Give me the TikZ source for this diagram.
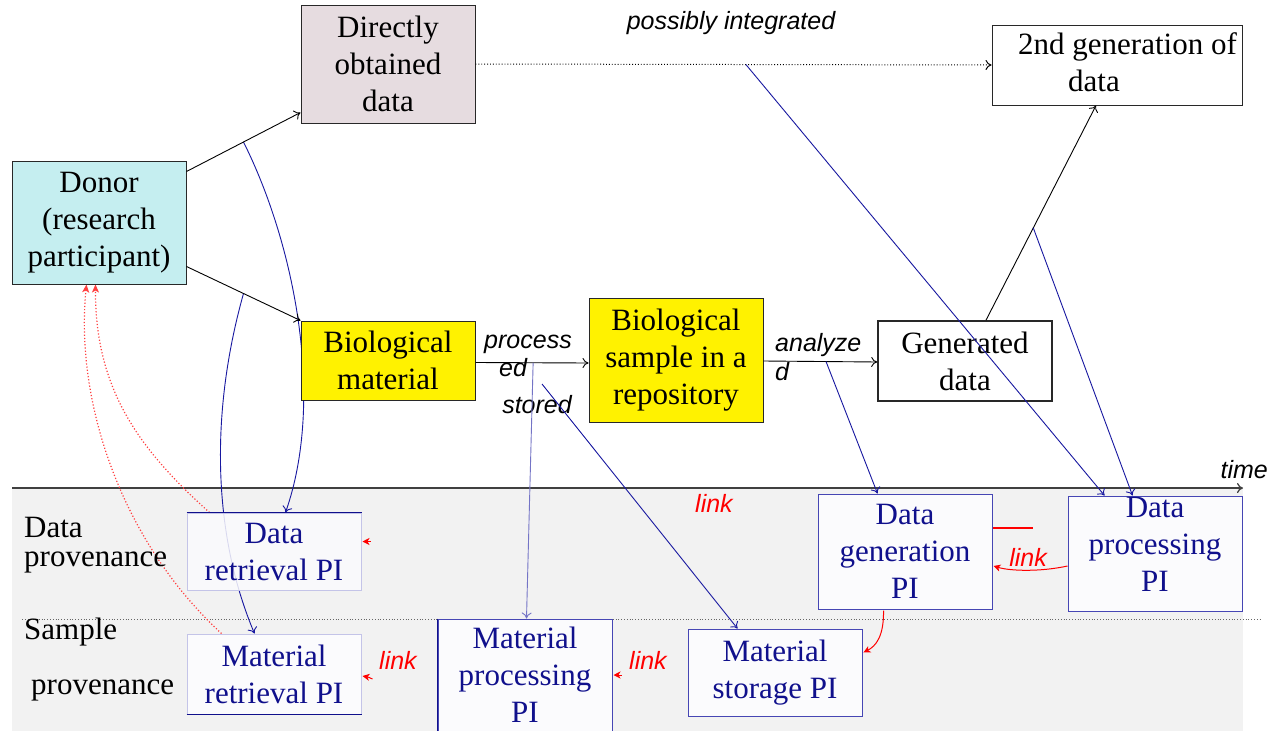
\documentclass[tikz,border=0pt]{standalone}
\usepackage{fontspec}
\setmainfont{Liberation Serif}
\setsansfont{Liberation Sans}
\usetikzlibrary{arrows.meta,calc}
\pgfdeclarelayer{back}
\pgfsetlayers{back,main}

\definecolor{donorfill}{RGB}{197,238,240}
\definecolor{directfill}{RGB}{230,220,224}
\definecolor{bandgray}{RGB}{242,242,242}
\definecolor{navy}{RGB}{24,24,160}
\definecolor{pitext}{RGB}{16,16,140}
\definecolor{piborder}{RGB}{70,70,180}
\definecolor{pilight}{RGB}{196,196,232}
\definecolor{pifill}{RGB}{251,251,253}
\definecolor{boxedge}{RGB}{40,40,40}
\definecolor{linkred}{RGB}{255,0,0}

\tikzset{
  mainbox/.style={draw=boxedge, line width=1pt, rectangle, inner sep=0pt,
    align=center, font=\fontsize{31}{37}\selectfont},
  pibox/.style={draw=piborder, line width=1pt, fill=pifill, rectangle,
    inner sep=0pt, align=center, text=pitext, font=\fontsize{31}{37}\selectfont},
  pitxt/.style={inner sep=0pt, align=center, text=pitext, font=\fontsize{31}{37}\selectfont},
  plain/.style={inner sep=0pt, align=left, font=\fontsize{31}{37}\selectfont},
  lbl/.style={inner sep=0pt, font=\sffamily\itshape\fontsize{25}{30}\selectfont},
  linklbl/.style={lbl, text=linkred},
  flow/.style={draw=black, line width=0.9pt, -{Computer Modern Rightarrow[length=6pt,width=10pt]}},
  bluearrow/.style={draw=navy, line width=0.9pt, -{Computer Modern Rightarrow[length=6pt,width=10pt]}},
  redarrow/.style={draw=linkred, line width=1pt, -{Stealth[length=7pt,width=7pt,inset=2pt]}},
  reddots/.style={draw=linkred!75, dotted, line width=1.2pt, -{Stealth[length=8pt,width=7pt,inset=2pt]}},
}

\begin{document}
\begin{tikzpicture}[x=1pt,y=-1pt]
\clip (0,0) rectangle (1270,731);

% ---- main flow boxes ----
\node[mainbox, fill=donorfill, minimum width=174, minimum height=123] (donor) at (99,222.5)
  {Donor\\(research\\participant)};
\node[mainbox, fill=directfill, minimum width=174, minimum height=118] (direct) at (388,64)
  {Directly\\obtained\\data};
\node[mainbox, fill=yellow, minimum width=174, minimum height=79] (biomat) at (388,360.5)
  {Biological\\material};
\node[mainbox, fill=yellow, minimum width=174, minimum height=124] (biosamp) at (676,360)
  {Biological\\sample in a\\repository};
\node[mainbox, fill=white, line width=1.6pt, minimum width=174, minimum height=80] (gendata) at (965,361)
  {Generated\\data};
\node[mainbox, fill=white, minimum width=250, minimum height=80] (gen2) at (1117,65) {};
\node[plain, anchor=west] (gen2txt) at (1018,62) {2nd generation of\\\hspace*{50pt}data};

% ---- provenance boxes ----
\node[pibox, draw=pilight, fill opacity=0.85, text opacity=1, minimum width=174, minimum height=77] (dret) at (274,551.5)
  {Data\\retrieval PI};
\node[pibox, draw=pilight, minimum width=174, minimum height=80] (mret) at (274,674)
  {Material\\retrieval PI};
\node[pibox, minimum width=174, minimum height=124] (mproc) at (525,681) {};
\node[pitxt] (mproctxt) at (525,675) {Material\\processing\\PI};
\node[pibox, minimum width=174, minimum height=87] (mstor) at (775,672.5)
  {Material\\storage PI};
\node[pibox, minimum width=174, minimum height=115] (dgen) at (905,551.5)
  {Data\\generation\\PI};
\node[pibox, minimum width=174, minimum height=115] (dproc) at (1155,553.5) {};
\node[pitxt] (dproctxt) at (1155,544) {Data\\processing\\PI};

\draw[pitext, line width=1pt] (dret.north west) -- (dret.north east);
\draw[pitext, line width=1pt] (mret.south west) -- (mret.south east);
\draw[pitext, line width=1.4pt] (mproc.north west) -- (mproc.south west);

% ---- row labels ----
\node[plain, anchor=west] (dprov1) at (24,527) {Data};
\node[plain, anchor=west] (dprov2) at (24,562) {provenance};
\node[plain, anchor=west] (sprov1) at (24,632) {Sample};
\node[plain, anchor=west] (sprov2) at (31,690) {provenance};

% ---- anchor points on the flow lines ----
\coordinate (dA) at ($(donor.north east)+(0,11)$);
\coordinate (dB) at ($(donor.south east)+(0,-18)$);
\coordinate (dirIn) at ($(direct.south west)+(0,-11)$);
\coordinate (c1) at ($(dA)!0.5!(dirIn)$);
\coordinate (c2) at ($(dB)!0.5!(biomat.north west)$);
\coordinate (pA) at ($(biomat.east)+(0,2)$);
\coordinate (pB) at ($(biosamp.west)+(0,3)$);
\coordinate (pm) at ($(pA)!0.51!(pB)$);
\coordinate (st) at (542,384);
\coordinate (aA) at ($(biosamp.east)+(0,1)$);
\coordinate (aB) at ($(gendata.west)+(0,1)$);
\coordinate (am) at ($(aA)!0.55!(aB)$);
\coordinate (gA) at ($(gendata.north)+(21,0)$);
\coordinate (gB) at ($(gen2.south)+(-21,0)$);
\coordinate (gm) at ($(gA)!0.43!(gB)$);
\coordinate (im) at ($(direct.east)!0.524!(gen2.west)$);

% ---- background: band, separators, time axis, hidden curves ----
\begin{pgfonlayer}{back}
  \fill[white] (0,0) rectangle (1270,731);
  \fill[bandgray] (12,488) rectangle (1243,731);
  \draw[gray!80!black, dotted, line width=0.8pt] (22,619) -- (1260,619);
  \draw[black!75, line width=1.2pt, -{Computer Modern Rightarrow[length=6pt,width=10pt]}] (12,488) -- (1243,488);
  \draw[bluearrow] (c1) .. controls (295,245) and (325,400) .. ($(dret.north west)+(99,0)$);
  \draw[bluearrow] (c2) .. controls (208,420) and (215,540) .. ($(mret.north west)+(68,0)$);
  \draw[reddots] ($(dret.north west)+(23,0)$) .. controls (140,450) and (95,390) .. ($(donor.south west)+(84,0)$);
  \draw[reddots] ($(mret.north west)+(35,0)$) .. controls (120,540) and (75,400) .. ($(donor.south west)+(75,0)$);
\end{pgfonlayer}
\node[lbl, anchor=east] (timelbl) at (1268,470) {time};

% ---- black flow arrows ----
\draw[flow] (dA) -- (dirIn);
\draw[flow] (dB) -- (biomat.north west);
\draw[flow] (pA) -- (pB);
\draw[flow] (aA) -- (aB);
\draw[flow] (gA) -- (gB);
\draw[flow, dotted, line width=1pt] (direct.east) -- (gen2.west);

\node[lbl] (plbl) at (731,23) {possibly integrated};
\node[lbl] (proc1) at (528,344) {process};
\node[lbl] (proc2) at (513,368) {ed};
\node[lbl] (stor) at (537,405) {stored};
\node[lbl, anchor=west] (ana1) at (775,345) {analyze};
\node[lbl, anchor=west] (ana2) at (775,372) {d};

% ---- blue provenance links ----
\draw[bluearrow, draw=navy!60] (pm) -- ($(mproc.north west)+(89,0)$);
\draw[bluearrow] (st) -- ($(mstor.north west)+(50,0)$);
\draw[bluearrow] (am) -- ($(dgen.north west)+(60,0)$);
\draw[bluearrow] (gm) -- ($(dproc.north west)+(65,0)$);
\draw[bluearrow] (im) -- ($(dproc.north west)+(37,0)$);

% ---- red links between PIs ----
\draw[redarrow] ($(dproc.west)+(0,12.5)$) .. controls (1040,572) and (1010,571) .. ($(dgen.east)+(1,14.5)$);
\fill[linkred] (993,527) rectangle (1033,529);
\draw[redarrow] ($(dgen.south west)+(66,1)$) .. controls (884,636) and (876,646) .. ($(mstor.east)+(1,-20)$);
\draw[redarrow] ($(dret.east)+(9,-10)$) -- ($(dret.east)+(1,-10)$);
\draw[redarrow] ($(mret.east)+(11,5)$) .. controls (368,677) .. ($(mret.east)+(1,2)$);
\draw[redarrow] ($(mproc.east)+(9,-6)$) -- ($(mproc.east)+(1,-6)$);

\node[linklbl] (link1) at (714,503) {link};
\node[linklbl] (link2) at (1028,557) {link};
\node[linklbl] (link3) at (398,660) {link};
\node[linklbl] (link4) at (648,660) {link};
\end{tikzpicture}
\end{document}
